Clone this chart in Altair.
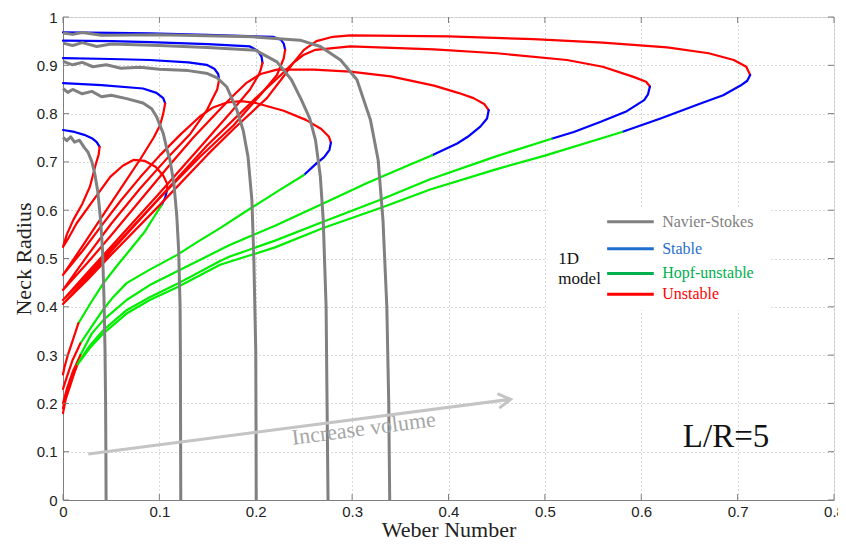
import altair as alt
import pandas as pd

# ---------------- data ----------------
x_ticks = [0, 0.1, 0.2, 0.3, 0.4, 0.5, 0.6, 0.7, 0.8]
y_ticks = [0, 0.1, 0.2, 0.3, 0.4, 0.5, 0.6, 0.7, 0.8, 0.9, 1.0]

# Navier-Stokes curves (gray)
ns1_x = [0, 0.004, 0.008, 0.012, 0.017, 0.022, 0.026, 0.030, 0.033, 0.036, 0.039, 0.041, 0.0425, 0.0436, 0.0442, 0.0445, 0.0447]
ns1_y = [0.751, 0.744, 0.752, 0.741, 0.745, 0.730, 0.720, 0.700, 0.675, 0.640, 0.580, 0.518, 0.420, 0.310, 0.200, 0.100, 0.0]
ns2_x = [0, 0.005, 0.010, 0.020, 0.030, 0.040, 0.050, 0.066, 0.083, 0.092, 0.097, 0.104, 0.108, 0.111, 0.115, 0.118, 0.120, 0.1215, 0.1218, 0.1220, 0.1222]
ns2_y = [0.852, 0.844, 0.850, 0.841, 0.846, 0.835, 0.838, 0.831, 0.822, 0.810, 0.794, 0.759, 0.725, 0.704, 0.656, 0.590, 0.518, 0.400, 0.310, 0.150, 0.0]
ns3_x = [0, 0.010, 0.020, 0.031, 0.045, 0.060, 0.080, 0.100, 0.130, 0.150, 0.160, 0.170, 0.180, 0.187, 0.192, 0.196, 0.198, 0.2000, 0.2003, 0.2005]
ns3_y = [0.908, 0.901, 0.906, 0.897, 0.901, 0.894, 0.896, 0.892, 0.889, 0.883, 0.874, 0.855, 0.810, 0.765, 0.710, 0.621, 0.500, 0.310, 0.150, 0.0]
ns4_x = [0, 0.010, 0.020, 0.035, 0.050, 0.100, 0.150, 0.200, 0.222, 0.237, 0.247, 0.256, 0.262, 0.267, 0.270, 0.273, 0.274, 0.275]
ns4_y = [0.946, 0.941, 0.947, 0.939, 0.944, 0.941, 0.937, 0.931, 0.907, 0.870, 0.830, 0.790, 0.745, 0.670, 0.580, 0.400, 0.200, 0.0]
ns5_x = [0, 0.010, 0.020, 0.040, 0.100, 0.197, 0.246, 0.267, 0.288, 0.305, 0.319, 0.327, 0.332, 0.336, 0.338, 0.339]
ns5_y = [0.967, 0.964, 0.968, 0.962, 0.963, 0.959, 0.952, 0.939, 0.911, 0.870, 0.787, 0.704, 0.580, 0.400, 0.200, 0.0]

# 1D model curves: segments (state, x list, y list)
curve1 = [
    ("Stable", [0, 0.012, 0.022, 0.030, 0.035, 0.038],
               [0.766, 0.762, 0.756, 0.749, 0.741, 0.731]),
    ("Unstable", [0.037, 0.034, 0.028, 0.020, 0.0107, 0.004, 0,
                  0.005, 0.0142, 0.0315, 0.049, 0.062, 0.073, 0.085, 0.096, 0.104, 0.108, 0.108],
                 [0.715, 0.695, 0.649, 0.613, 0.580, 0.550, 0.524,
                  0.540, 0.573, 0.621, 0.669, 0.692, 0.704, 0.702, 0.690, 0.672, 0.655, 0.642]),
    ("Stable", [0.106, 0.1025], [0.626, 0.611]),
    ("Hopf", [0.095, 0.085, 0.0696, 0.056, 0.042, 0.030, 0.016],
             [0.588, 0.556, 0.518, 0.485, 0.449, 0.412, 0.366]),
    ("Unstable", [0.010, 0.005, 0.0015, 0], [0.330, 0.300, 0.275, 0.260]),
]
curve2 = [
    ("Stable", [0, 0.040, 0.083, 0.097, 0.104, 0.106],
               [0.863, 0.859, 0.852, 0.843, 0.832, 0.821]),
    ("Unstable", [0.104, 0.1007, 0.094, 0.080, 0.060, 0.040, 0.020, 0,
                  0.020, 0.040, 0.060, 0.080, 0.1007, 0.1215, 0.142, 0.155, 0.170, 0.185, 0.200, 0.229, 0.252, 0.268, 0.276, 0.278],
                 [0.800, 0.776, 0.750, 0.705, 0.645, 0.585, 0.525, 0.466,
                  0.515, 0.568, 0.620, 0.668, 0.714, 0.756, 0.794, 0.812, 0.823, 0.826, 0.822, 0.806, 0.787, 0.768, 0.752, 0.740]),
    ("Stable", [0.2765, 0.271, 0.263, 0.250], [0.725, 0.710, 0.697, 0.673]),
    ("Hopf", [0.225, 0.194, 0.163, 0.140, 0.118, 0.090, 0.066, 0.052, 0.042, 0.030, 0.018],
             [0.642, 0.603, 0.563, 0.535, 0.507, 0.477, 0.449, 0.420, 0.395, 0.360, 0.324]),
    ("Unstable", [0.010, 0.004, 0], [0.290, 0.255, 0.230]),
]
curve3 = [
    ("Stable", [0, 0.050, 0.090, 0.130, 0.149, 0.157, 0.161, 0.162],
               [0.915, 0.913, 0.911, 0.906, 0.901, 0.893, 0.882, 0.870]),
    ("Unstable", [0.160, 0.155, 0.149, 0.132, 0.111, 0.080, 0.050, 0.025, 0,
                  0.025, 0.050, 0.080, 0.110, 0.135, 0.160, 0.177, 0.190, 0.205, 0.222, 0.260, 0.298, 0.340, 0.385, 0.410, 0.426, 0.437, 0.4417],
                 [0.850, 0.830, 0.806, 0.758, 0.714, 0.645, 0.572, 0.505, 0.435,
                  0.490, 0.548, 0.620, 0.692, 0.750, 0.803, 0.838, 0.863, 0.882, 0.891, 0.891, 0.887, 0.877, 0.858, 0.843, 0.832, 0.820, 0.807]),
    ("Stable", [0.440, 0.433, 0.420, 0.409, 0.383], [0.790, 0.773, 0.752, 0.738, 0.714]),
    ("Hopf", [0.350, 0.315, 0.270, 0.220, 0.173, 0.163, 0.118, 0.090, 0.066, 0.042, 0.030, 0.018],
             [0.686, 0.656, 0.614, 0.568, 0.528, 0.518, 0.473, 0.445, 0.414, 0.373, 0.345, 0.300]),
    ("Unstable", [0.010, 0.004, 0], [0.265, 0.230, 0.200]),
]
curve4 = [
    ("Stable", [0, 0.050, 0.090, 0.150, 0.194, 0.202, 0.206, 0.207],
               [0.951, 0.950, 0.948, 0.944, 0.939, 0.930, 0.918, 0.905]),
    ("Unstable", [0.205, 0.203, 0.194, 0.173, 0.142, 0.100, 0.050, 0.025, 0,
                  0.025, 0.050, 0.100, 0.150, 0.200, 0.225, 0.239, 0.250, 0.262, 0.298, 0.385, 0.450, 0.523, 0.560, 0.592, 0.605, 0.609],
                 [0.890, 0.880, 0.850, 0.800, 0.730, 0.635, 0.525, 0.470, 0.414,
                  0.465, 0.518, 0.625, 0.735, 0.832, 0.878, 0.905, 0.922, 0.932, 0.939, 0.933, 0.925, 0.911, 0.897, 0.876, 0.866, 0.856]),
    ("Stable", [0.607, 0.603, 0.585, 0.558, 0.530, 0.507], [0.840, 0.828, 0.805, 0.783, 0.762, 0.748]),
    ("Hopf", [0.450, 0.381, 0.330, 0.270, 0.220, 0.173, 0.163, 0.118, 0.090, 0.066, 0.042, 0.028, 0.016],
             [0.712, 0.664, 0.622, 0.576, 0.537, 0.504, 0.495, 0.447, 0.420, 0.393, 0.352, 0.320, 0.285]),
    ("Unstable", [0.009, 0.003, 0], [0.250, 0.215, 0.190]),
]
curve5 = [
    ("Stable", [0, 0.050, 0.090, 0.150, 0.218, 0.226, 0.229, 0.2305],
               [0.968, 0.967, 0.966, 0.963, 0.959, 0.953, 0.945, 0.932]),
    ("Unstable", [0.229, 0.222, 0.205, 0.177, 0.142, 0.100, 0.050, 0.025, 0,
                  0.025, 0.050, 0.100, 0.150, 0.177, 0.2115, 0.230, 0.239, 0.250, 0.263, 0.280, 0.298, 0.400, 0.488, 0.560, 0.627, 0.670, 0.696, 0.709, 0.713],
                 [0.914, 0.880, 0.839, 0.776, 0.710, 0.625, 0.515, 0.460, 0.406,
                  0.455, 0.508, 0.610, 0.715, 0.768, 0.832, 0.880, 0.905, 0.932, 0.950, 0.959, 0.962, 0.960, 0.954, 0.947, 0.937, 0.925, 0.911, 0.897, 0.880]),
    ("Stable", [0.710, 0.703, 0.685, 0.6615, 0.620, 0.580], [0.868, 0.858, 0.838, 0.821, 0.790, 0.762]),
    ("Hopf", [0.500, 0.450, 0.381, 0.330, 0.270, 0.220, 0.163, 0.118, 0.090, 0.066, 0.042, 0.028, 0.014],
             [0.713, 0.685, 0.643, 0.605, 0.563, 0.523, 0.487, 0.440, 0.414, 0.386, 0.345, 0.315, 0.278]),
    ("Unstable", [0.008, 0.003, 0], [0.240, 0.210, 0.180]),
]

# annotations
arrow_x = [0.0263, 0.4644]
arrow_y = [0.0952, 0.2085]
arrow_label = "Increase volume"
arrow_label_pos = [0.312, 0.148]
lr_label = "L/R=5"
lr_pos = [0.688, 0.130]

legend_names = ["Navier-Stokes", "Stable", "Hopf-unstable", "Unstable"]
legend_colors = ["#808080", "#1f6fce", "#00b04f", "#ff0000"]
legend_y = [0.576, 0.520, 0.469, 0.426]
legend_x = [0.5646, 0.613]
legend_text_x = 0.6217
legend_box_x = [0.503, 0.735]
legend_box_y = [0.393, 0.603]
model_label = ["1D", "model"]
model_label_x = 0.514
model_label_y = [0.500, 0.458]

# ---------------- build tables ----------------
rows = []
seg_id = 0
order = 0
for ci, curve in enumerate([curve1, curve2, curve3, curve4, curve5]):
    last = None
    for state, xs_, ys_ in curve:
        pts = list(zip(xs_, ys_))
        if last is not None:
            pts = [last] + pts
        for (x, y) in pts:
            rows.append({"x": x, "y": y, "state": state, "seg": seg_id, "o": order})
            order += 1
        last = pts[-1]
        seg_id += 1
model_df = pd.DataFrame(rows)

ns_rows = []
for k, (xs_, ys_) in enumerate([(ns1_x, ns1_y), (ns2_x, ns2_y), (ns3_x, ns3_y), (ns4_x, ns4_y), (ns5_x, ns5_y)]):
    for i, (x, y) in enumerate(zip(xs_, ys_)):
        ns_rows.append({"x": x, "y": y, "k": k, "o": i})
ns_df = pd.DataFrame(ns_rows)

W, H = 771, 483
xs = alt.Scale(domain=[0, 0.8], nice=False, zero=False)
ys = alt.Scale(domain=[0, 1], nice=False, zero=False)
SERIF = "Liberation Serif"
AXC = "#7f7f7f"

x_axis = alt.Axis(values=x_ticks, format="~g", title="Weber Number", grid=True,
                  gridDash=[1, 3], gridColor="#b5b5b5", gridWidth=1,
                  tickSize=0, labelPadding=4, labelFont="Liberation Sans", labelFontSize=15,
                  labelColor="#222222", titleFont=SERIF, titleFontSize=22, titleFontWeight="normal",
                  titleColor="#222222", titleBaseline="alphabetic", titleY=36,
                  domainColor=AXC, labelFlush=False)
y_axis = alt.Axis(values=y_ticks, format="~g", title="Neck Radius", grid=True,
                  gridDash=[1, 3], gridColor="#b5b5b5", gridWidth=1,
                  tickSize=0, labelPadding=6, labelFont="Liberation Sans", labelFontSize=15,
                  labelColor="#222222", titleFont=SERIF, titleFontSize=22, titleFontWeight="normal",
                  titleColor="#222222", titleBaseline="alphabetic", titleAngle=270,
                  titleX=-33, titleY=H / 2, domainColor=AXC, labelFlush=False)

base_model = alt.Chart(model_df).mark_line(strokeWidth=2.2, strokeCap="round", strokeJoin="round").encode(
    x=alt.X("x:Q", scale=xs, axis=x_axis),
    y=alt.Y("y:Q", scale=ys, axis=y_axis),
    color=alt.Color("state:N", scale=alt.Scale(domain=["Stable", "Hopf", "Unstable"],
                                               range=["#0000ff", "#00ee00", "#ff0000"]), legend=None),
    detail="seg:N",
    order="o:Q",
)

ns_layer = alt.Chart(ns_df).mark_line(strokeWidth=3, color="#808080", strokeJoin="round").encode(
    x=alt.X("x:Q", scale=xs), y=alt.Y("y:Q", scale=ys), detail="k:N", order="o:Q")

# white legend box
box_df = pd.DataFrame({"x": [legend_box_x[0]], "x2": [legend_box_x[1]], "y": [legend_box_y[0]], "y2": [legend_box_y[1]]})
box = alt.Chart(box_df).mark_rect(color="white").encode(
    x=alt.X("x:Q", scale=xs), x2="x2", y=alt.Y("y:Q", scale=ys), y2="y2")

leg_df = pd.DataFrame({"name": legend_names, "color": legend_colors, "y": legend_y,
                       "x": [legend_x[0]] * 4, "x2": [legend_x[1]] * 4, "tx": [legend_text_x] * 4})
leg_lines = alt.Chart(leg_df).mark_rule(strokeWidth=3).encode(
    x=alt.X("x:Q", scale=xs), x2="x2", y=alt.Y("y:Q", scale=ys),
    color=alt.Color("color:N", scale=None))
leg_text = alt.Chart(leg_df).mark_text(align="left", baseline="middle", font=SERIF, fontSize=16).encode(
    x=alt.X("tx:Q", scale=xs), y=alt.Y("y:Q", scale=ys), text="name:N",
    color=alt.Color("color:N", scale=None))
model_df2 = pd.DataFrame({"t": model_label, "x": [model_label_x] * 2, "y": model_label_y})
model_text = alt.Chart(model_df2).mark_text(align="left", baseline="middle", font=SERIF, fontSize=17, color="#111111").encode(
    x=alt.X("x:Q", scale=xs), y=alt.Y("y:Q", scale=ys), text="t:N")

# arrow
arrow_df = pd.DataFrame({"x": arrow_x, "y": arrow_y})
arrow_line = alt.Chart(arrow_df).mark_line(color="#c4c4c4", strokeWidth=3).encode(
    x=alt.X("x:Q", scale=xs), y=alt.Y("y:Q", scale=ys))
head_df = pd.DataFrame({"x": [arrow_x[1]], "y": [arrow_y[1]]})
arrow_head = alt.Chart(head_df).mark_point(shape="M -1 -0.6 L 0 0 L -1 0.6", filled=False, stroke="#c4c4c4",
                                           strokeWidth=3, size=600, angle=352.6, opacity=1).encode(
    x=alt.X("x:Q", scale=xs), y=alt.Y("y:Q", scale=ys))
arrow_text_df = pd.DataFrame({"x": [arrow_label_pos[0]], "y": [arrow_label_pos[1]], "t": [arrow_label]})
arrow_text = alt.Chart(arrow_text_df).mark_text(font=SERIF, fontSize=22, color="#a6a6a6", angle=352.6,
                                                align="center", baseline="middle").encode(
    x=alt.X("x:Q", scale=xs), y=alt.Y("y:Q", scale=ys), text="t:N")
lr_df = pd.DataFrame({"x": [lr_pos[0]], "y": [lr_pos[1]], "t": [lr_label]})
lr_text = alt.Chart(lr_df).mark_text(font=SERIF, fontSize=33, color="#111111", align="center", baseline="middle").encode(
    x=alt.X("x:Q", scale=xs), y=alt.Y("y:Q", scale=ys), text="t:N")

# inward ticks on the four sides
xt_df = pd.DataFrame({"v": x_ticks})
yt_df = pd.DataFrame({"v": y_ticks})
tick_style = dict(color=AXC, strokeWidth=1)
t_bottom = alt.Chart(xt_df).mark_rule(**tick_style).encode(x=alt.X("v:Q", scale=xs), y=alt.value(H), y2=alt.value(H - 6))
t_top = alt.Chart(xt_df).mark_rule(**tick_style).encode(x=alt.X("v:Q", scale=xs), y=alt.value(0), y2=alt.value(6))
t_left = alt.Chart(yt_df).mark_rule(**tick_style).encode(y=alt.Y("v:Q", scale=ys), x=alt.value(0), x2=alt.value(6))
t_right = alt.Chart(yt_df).mark_rule(**tick_style).encode(y=alt.Y("v:Q", scale=ys), x=alt.value(W), x2=alt.value(W - 6))

chart = alt.layer(
    base_model, ns_layer, box, leg_lines, leg_text, model_text,
    arrow_line, arrow_head, arrow_text, lr_text,
    t_bottom, t_top, t_left, t_right,
).properties(
    width=W, height=H,
    autosize=alt.AutoSizeParams(type="none"),
    padding={"left": 55, "top": 9, "right": 4, "bottom": 38},
).configure_view(stroke=AXC, strokeWidth=1).configure(background="white")

chart.save("out.html", embed_options={"renderer": "svg", "actions": False})
